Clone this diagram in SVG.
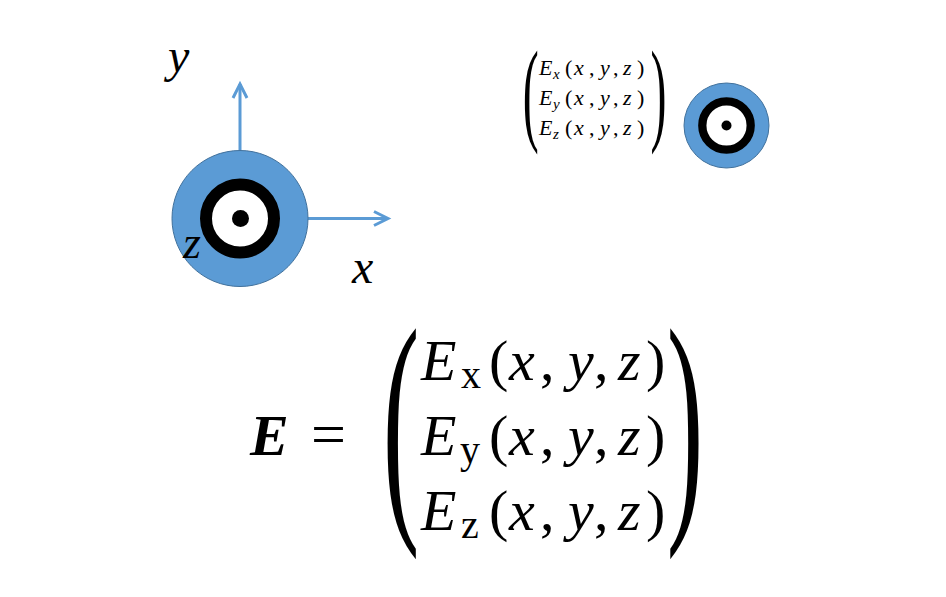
<svg xmlns="http://www.w3.org/2000/svg" width="946" height="597" viewBox="0 0 946 597">
<defs>
<style>
.m{font-family:"Liberation Serif","Times New Roman",serif;fill:#000}
.i{font-style:italic}
.ax{stroke:#5B9BD5;stroke-width:3;fill:none}
.disk{fill:#5B9BD5;stroke:#41719C;stroke-width:1}
</style>
<marker id="arr" markerUnits="userSpaceOnUse" markerWidth="20" markerHeight="20" viewBox="-16 -10 20 20" refX="0" refY="0" orient="auto">
<path d="M-14,-7 L0,0 L-14,7" fill="none" stroke="#5B9BD5" stroke-width="3"/>
</marker>
</defs>
<rect width="946" height="597" fill="#fff"/>
<g id="connectors">
<line class="ax" x1="240" y1="150" x2="240" y2="84" marker-end="url(#arr)"/>
<line class="ax" x1="308" y1="218.5" x2="388" y2="218.5" marker-end="url(#arr)"/>
</g>
<g id="bigCircle">
<circle class="disk" cx="240" cy="218.5" r="68"/>
<circle cx="240" cy="218.5" r="34" fill="#fff" stroke="#000" stroke-width="12"/>
<circle cx="240.5" cy="218.5" r="8.5" fill="#000"/>
</g>
<g id="labels">
<text class="m i" x="168" y="72" font-size="48">y</text>
<text class="m i" x="352" y="283" font-size="48">x</text>
<text class="m i" x="183" y="258" font-size="46">z</text>
</g>
<g id="smallCircle">
<circle class="disk" cx="726.5" cy="125.5" r="42.5"/>
<circle cx="726.5" cy="125.5" r="24.2" fill="#fff" stroke="#000" stroke-width="8.3"/>
<circle cx="726.5" cy="125.5" r="5" fill="#000"/>
</g>
<g id="smallMatrix" class="m" font-size="22">
<text transform="translate(522.7,129.9) scale(1,2.37)" font-size="48">(</text>
<text transform="translate(650.6,129.9) scale(1,2.37)" font-size="48">)</text>
<text y="75"><tspan x="539" class="i">E</tspan><tspan x="553" dy="4" class="i" font-size="15">x</tspan><tspan x="565" dy="-4">(</tspan><tspan x="574" class="i">x</tspan><tspan x="589">,</tspan><tspan x="600" class="i">y</tspan><tspan x="613">,</tspan><tspan x="623" class="i">z</tspan><tspan x="637">)</tspan></text>
<text y="105"><tspan x="539" class="i">E</tspan><tspan x="553" dy="4" class="i" font-size="15">y</tspan><tspan x="565" dy="-4">(</tspan><tspan x="574" class="i">x</tspan><tspan x="589">,</tspan><tspan x="600" class="i">y</tspan><tspan x="613">,</tspan><tspan x="623" class="i">z</tspan><tspan x="637">)</tspan></text>
<text y="135"><tspan x="539" class="i">E</tspan><tspan x="553" dy="4" class="i" font-size="15">z</tspan><tspan x="565" dy="-4">(</tspan><tspan x="574" class="i">x</tspan><tspan x="589">,</tspan><tspan x="600" class="i">y</tspan><tspan x="613">,</tspan><tspan x="623" class="i">z</tspan><tspan x="637">)</tspan></text>
</g>
<g id="bigEquation" class="m" font-size="58">
<text x="250" y="455" font-size="58" font-weight="bold" font-style="italic">E</text>
<text x="311" y="455" font-size="62">=</text>
<text transform="translate(382.7,505) scale(1,2.31)" font-size="110">(</text>
<text transform="translate(666.8,505) scale(1,2.31)" font-size="110">)</text>
<text y="380"><tspan x="421" class="i">E</tspan><tspan x="461" dy="8" font-size="40">x</tspan><tspan x="489" dy="-8">(</tspan><tspan x="509" class="i">x</tspan><tspan x="540">,</tspan><tspan x="568" class="i">y</tspan><tspan x="594">,</tspan><tspan x="618" class="i">z</tspan><tspan x="646">)</tspan></text>
<text y="455"><tspan x="421" class="i">E</tspan><tspan x="460" dy="8" font-size="40">y</tspan><tspan x="489" dy="-8">(</tspan><tspan x="509" class="i">x</tspan><tspan x="540">,</tspan><tspan x="568" class="i">y</tspan><tspan x="594">,</tspan><tspan x="618" class="i">z</tspan><tspan x="646">)</tspan></text>
<text y="530"><tspan x="421" class="i">E</tspan><tspan x="461" dy="8" font-size="40">z</tspan><tspan x="489" dy="-8">(</tspan><tspan x="509" class="i">x</tspan><tspan x="540">,</tspan><tspan x="568" class="i">y</tspan><tspan x="594">,</tspan><tspan x="618" class="i">z</tspan><tspan x="646">)</tspan></text>
</g>
</svg>
